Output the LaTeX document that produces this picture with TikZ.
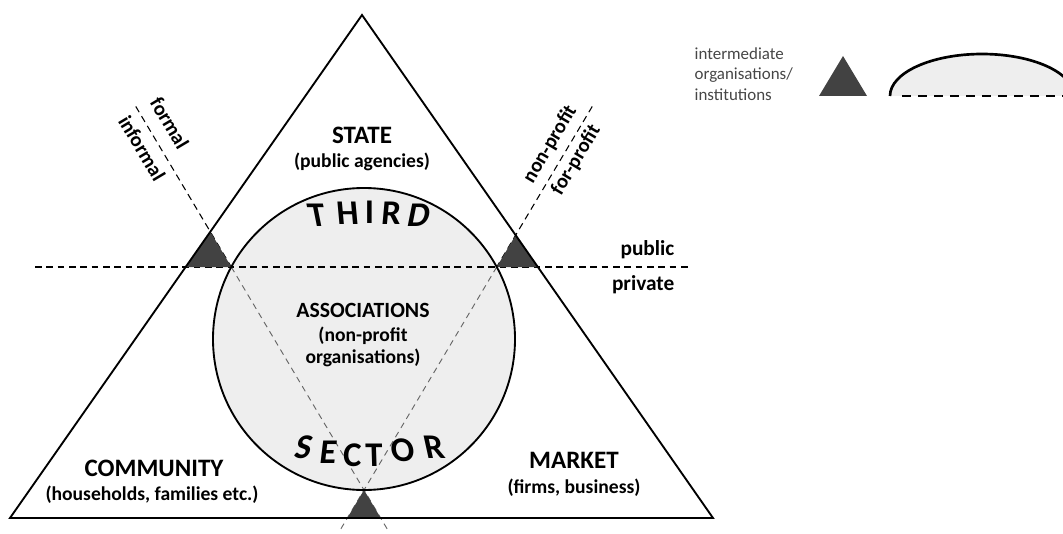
\documentclass[tikz,border=0pt]{standalone}
\usepackage{fontspec}
\setmainfont{Carlito}
\usetikzlibrary{intersections,calc}
\definecolor{sectorfill}{RGB}{238,238,238}
\definecolor{midfill}{RGB}{66,66,66}
\definecolor{legendtext}{RGB}{70,70,70}

\begin{document}
\begin{tikzpicture}[x=0.75pt,y=0.75pt,
  title/.style={font=\fontsize{18.8}{21}\selectfont\bfseries},
  sub/.style={font=\fontsize{14.7}{17}\selectfont\bfseries},
  diaglabel/.style={font=\fontsize{15.3}{17}\selectfont\bfseries},
  side/.style={font=\fontsize{16}{18}\selectfont\bfseries},
  letter/.style={font=\fontsize{26}{28}\selectfont\bfseries, inner sep=0pt},
  divider/.style={dash pattern=on 5pt off 3.5pt, line width=0.8pt},
  innerdivider/.style={dash pattern=on 4.5pt off 3.5pt, line width=0.7pt, black!60},
  outline/.style={line width=1.4pt},
  midorg/.style={fill=midfill}]
  \useasboundingbox (0,0) rectangle (1063,533);

  \coordinate (A) at (10,15);
  \coordinate (B) at (713,15);
  \coordinate (C) at (362,518);
  \coordinate (O) at (364,194);
  \coordinate (P) at (364,43);
  \coordinate (L) at (231.3,266);
  \coordinate (R) at (496.7,266);
  \coordinate (hl) at (35,266);
  \coordinate (hr) at (688,266);
  \coordinate (Ltop) at ($(P)!1.72!(L)$);
  \coordinate (Ldown) at ($(P)!-0.18!(L)$);
  \coordinate (Rtop) at ($(P)!1.72!(R)$);
  \coordinate (Rdown) at ($(P)!-0.18!(R)$);

  \path[name path=leftside] (A) -- (C);
  \path[name path=rightside] (B) -- (C);
  \path[name path=baseside] (A) -- (B);
  \path[name path=hline] (hl) -- (hr);
  \path[name path=diagl] (Ldown) -- (Ltop);
  \path[name path=diagr] (Rdown) -- (Rtop);
  \path[name intersections={of=leftside and diagl, by=Lapex}];
  \path[name intersections={of=rightside and diagr, by=Rapex}];
  \path[name intersections={of=leftside and hline, by=Lfoot}];
  \path[name intersections={of=rightside and hline, by=Rfoot}];
  \path[name intersections={of=baseside and diagl, by=Bright}];
  \path[name intersections={of=baseside and diagr, by=Bleft}];

  \fill[sectorfill] (O) circle (151);

  \draw[divider] (hl) -- (hr);
  \draw[divider] (Ltop) -- (L);
  \draw[divider] (Rtop) -- (R);
  \draw[innerdivider] (L) -- (Ldown);
  \draw[innerdivider] (R) -- (Rdown);

  \fill[midorg] (Lapex) -- (Lfoot) -- (L) -- cycle;
  \fill[midorg] (Rapex) -- (R) -- (Rfoot) -- cycle;
  \fill[midorg] (P) -- (Bleft) -- (Bright) -- cycle;

  \draw[outline, line join=miter] (A) -- (B) -- (C) -- cycle;
  \draw[outline] (O) circle (151);

  \path (Ltop) -- (L)
    node[pos=0.17, sloped, above=6.5pt, diaglabel] (formal) {formal}
    node[pos=0.21, sloped, below=3pt, diaglabel] (informal) {informal};
  \path (R) -- (Rtop)
    node[pos=0.71, sloped, above=2.5pt, diaglabel] (nonprofit) {non-profit}
    node[pos=0.71, sloped, below=0pt, diaglabel] (forprofit) {for-profit};

  \node[title] (state) at (362,398) {STATE};
  \node[sub] (statesub) at (362,371) {(public agencies)};
  \node[title] (community) at (154,65) {COMMUNITY};
  \node[sub] (communitysub) at (152,38) {(households, families etc.)};
  \node[title] (market) at (574,73) {MARKET};
  \node[sub] (marketsub) at (574,45) {(firms, business)};
  \node[sub, align=center] (assoc) at (363,198)
    {{\fontsize{16.3}{18}\selectfont ASSOCIATIONS}\\[1pt](non-profit\\organisations)};
  \node[side, anchor=east] (public) at (679,283) {public};
  \node[side, anchor=east] (private) at (679,248) {private};

  \foreach \ch/\x/\y/\sl in {T/317/318/-0.2, H/347.5/320/-0.09, I/369.5/321/0, R/391.5/320/0.09, D/419/318/0.2}
    \node[letter, xslant=\sl] (third-\ch) at (\x,\y) {\ch};
  \foreach \ch/\x/\y/\sl in {S/304/86/0.25, E/328.5/81/0.12, C/352.5/78/0.03, T/374/78/-0.03, O/402.5/83/-0.12, R/434/86/-0.22}
    \node[letter, xslant=\sl] (sector-\ch) at (\x,\y) {\ch};

  \node[anchor=west, align=left, text=legendtext,
    font=\fontsize{12.7}{15.4}\selectfont] (legend) at (690,459)
    {intermediate\\organisations/\\institutions};
  \fill[midorg] (819,437) -- (867,437) -- (843,477) -- cycle;
  \begin{scope}
    \clip (880,420) rectangle (1063,500);
    \draw[line width=2pt, fill=sectorfill] (890,437) arc[start angle=180, end angle=0, x radius=92, y radius=42];
    \draw[line width=2.2pt, dash pattern=on 7pt off 5pt] (902,437) -- (1063,437);
  \end{scope}
\end{tikzpicture}
\end{document}
